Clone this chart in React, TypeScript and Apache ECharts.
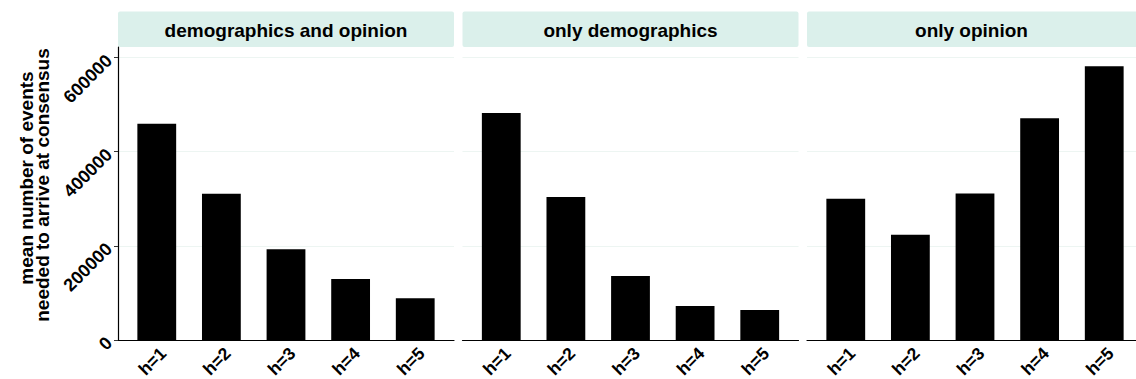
import React, { useEffect, useRef } from "react";
import * as echarts from "echarts";

// Facet titles and category labels
const facets = ["demographics and opinion", "only demographics", "only opinion"];
const hLabels = ["h=1", "h=2", "h=3", "h=4", "h=5"];

// Mean number of events per facet, one value per h
const demographicsAndOpinion = [459600, 310600, 193000, 129800, 88700];
const onlyDemographics = [482300, 303600, 136200, 72300, 63800];
const onlyOpinion = [300000, 223400, 311300, 470900, 581500];

const yTicks = [0, 200000, 400000, 600000];
const yMax = 622500;
const yTitleLines = ["mean number of events", "needed to arrive at consensus"];

const FONT = "'Liberation Sans', Arial, Helvetica, sans-serif";

export default function App() {
  const ref = useRef<HTMLDivElement>(null);

  useEffect(() => {
    if (!ref.current) return;
    const chart = echarts.init(ref.current, undefined, { renderer: "svg" });

    const seriesValues = [demographicsAndOpinion, onlyDemographics, onlyOpinion];
    const panelLeft = [118, 462.5, 807];
    const panelWidth = 336;
    const panelTop = 47;
    const panelHeight = 293;

    const grids = panelLeft.map((left) => ({
      left,
      top: panelTop,
      width: panelWidth,
      height: panelHeight,
      containLabel: false,
      outerBoundsMode: "none",
    }));

    const xAxes = panelLeft.map((_, i) => ({
      type: "value" as const,
      gridIndex: i,
      min: 0.4,
      max: 5.6,
      axisLine: { show: true, lineStyle: { color: "#000", width: 1.2 } },
      axisTick: { show: false },
      splitLine: { show: false },
      axisLabel: {
        customValues: [1, 2, 3, 4, 5],
        rotate: 45,
        align: "right" as const,
        verticalAlign: "top" as const,
        margin: 4,
        color: "#000",
        fontFamily: FONT,
        fontWeight: "bold" as const,
        fontSize: 17.5,
        formatter: (v: number) => hLabels[Math.round(v) - 1] ?? "",
      },
    }));

    const yAxes = panelLeft.map((_, i) => ({
      type: "value" as const,
      gridIndex: i,
      min: 0,
      max: yMax,
      interval: 200000,
      axisLine: { show: i === 0, lineStyle: { color: "#000", width: 1.2 } },
      axisTick: {
        show: i === 0,
        customValues: yTicks,
        length: 4,
        lineStyle: { color: "#333" },
      },
      axisLabel: {
        show: i === 0,
        customValues: yTicks,
        rotate: 45,
        margin: 9,
        color: "#000",
        fontFamily: FONT,
        fontWeight: "bold" as const,
        fontSize: 18,
        formatter: (v: number) => String(v),
      },
      splitLine: { show: true, lineStyle: { color: "#edf5f2", width: 1.2 } },
    }));

    const series = seriesValues.map((vals, i) => ({
      type: "bar" as const,
      xAxisIndex: i,
      yAxisIndex: i,
      barWidth: 38.8,
      itemStyle: { color: "#000" },
      data: vals.map((v, j) => [j + 1, v]),
    }));

    const strips = panelLeft.flatMap((left, i) => [
      {
        type: "rect",
        shape: { x: left, y: 11.5, width: panelWidth, height: 35.5, r: 2 },
        style: { fill: "#dbf0eb" },
        silent: true,
      },
      {
        type: "text",
        x: left + panelWidth / 2 - (i === 2 ? 3.5 : 0),
        y: 30.5,
        style: {
          text: facets[i],
          align: "center",
          verticalAlign: "middle",
          fill: "#000",
          font: `bold 19px ${FONT}`,
        },
        silent: true,
      },
    ]);

    const yTitle = [
      { x: 26.5, y: 178, text: yTitleLines[0] },
      { x: 42.5, y: 185, text: yTitleLines[1] },
    ].map((t) => ({
      type: "text",
      x: t.x,
      y: t.y,
      rotation: Math.PI / 2,
      style: {
        text: t.text,
        align: "center",
        verticalAlign: "middle",
        fill: "#000",
        font: `bold 19px ${FONT}`,
      },
      silent: true,
    }));

    chart.setOption({
      animation: false,
      backgroundColor: "#fff",
      grid: grids,
      xAxis: xAxes,
      yAxis: yAxes,
      series,
      graphic: [...strips, ...yTitle],
    });

    return () => chart.dispose();
  }, []);

  return (
    <div
      ref={ref}
      style={{ position: "fixed", left: 0, top: 0, width: 1136, height: 379 }}
    />
  );
}
